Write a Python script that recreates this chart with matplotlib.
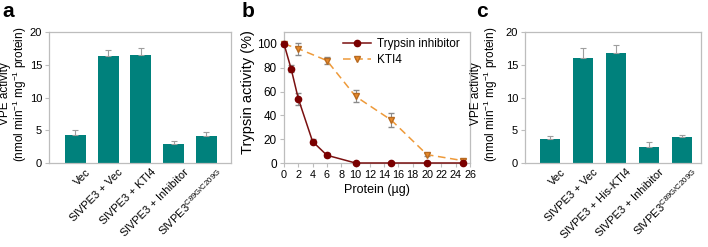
import matplotlib
matplotlib.use('Agg')
import matplotlib.pyplot as plt
import matplotlib.transforms as mtransforms
import numpy as np

plt.rcParams['font.family'] = ['Liberation Sans', 'DejaVu Sans']
plt.rcParams['font.size'] = 8
plt.rcParams['mathtext.fontset'] = 'custom'
plt.rcParams['mathtext.rm'] = 'Liberation Sans'

# panel a
labels_a = ['Vec', 'SlVPE3 + Vec', 'SlVPE3 + KTI4', 'SlVPE3 + Inhibitor', r'SlVPE3$^{\mathregular{C89G/C209G}}$']
vpe_a = [4.2, 16.3, 16.5, 2.9, 4.1]
err_a = [0.8, 1.0, 1.1, 0.5, 0.6]

# panel c
labels_c = ['Vec', 'SlVPE3 + Vec', 'SlVPE3 + His-KTI4', 'SlVPE3 + Inhibitor', r'SlVPE3$^{\mathregular{C89G/C209G}}$']
vpe_c = [3.7, 16.1, 16.8, 2.5, 3.9]
err_c = [0.4, 1.4, 1.2, 0.7, 0.4]

# panel b
ti_x = [0, 1, 2, 4, 6, 10, 15, 20, 25]
ti_y = [100, 79, 54, 18, 6.5, 0, 0, 0, 0]
ti_err = [1.5, 3, 5, 2, 1.5, 0.5, 0.5, 0.5, 0.5]
kti_x = [0, 2, 6, 10, 15, 20, 25]
kti_y = [100, 96, 86, 56, 36, 7, 2]
kti_err = [1, 5, 3, 5, 6, 1.5, 1]

teal = '#00817C'
spine_c = '#BDBDBD'
W, H = 708, 247

fig = plt.figure(figsize=(W / 100, H / 100), dpi=100)


def ax_at(l, t, r, b):
    return fig.add_axes([l / W, 1 - b / H, (r - l) / W, (b - t) / H])


def style(ax):
    for s in ax.spines.values():
        s.set_color(spine_c)
        s.set_linewidth(0.9)
    ax.tick_params(colors=spine_c, labelcolor='black', length=3, width=0.8, direction='out', pad=2)


def bar_panel(ax, labels, vals, errs, xlim, bw):
    x = np.arange(len(vals))
    ax.bar(x, vals, width=bw, color=teal, zorder=2)
    ax.errorbar(x, vals, yerr=[np.zeros(len(errs)), errs], fmt='none', ecolor='#9E9E9E',
                elinewidth=0.8, capsize=2.5, capthick=0.8, zorder=3)
    ax.set_xlim(*xlim)
    ax.set_ylim(0, 20)
    ax.set_yticks([0, 5, 10, 15, 20])
    ax.set_xticks(x)
    ax.set_xticklabels(labels, rotation=45, ha='right', rotation_mode='anchor', fontsize=8)
    style(ax)
    ax.tick_params(axis='x', length=0, pad=3)
    ax.tick_params(axis='y', labelsize=8)
    # labels sit a little right of the bar centres, as in the original
    shift = mtransforms.ScaledTranslation(10 / 100, 0, fig.dpi_scale_trans)
    for t in ax.get_xticklabels():
        t.set_transform(t.get_transform() + shift)


ax_a = ax_at(49, 32, 231, 163)
bar_panel(ax_a, labels_a, vpe_a, err_a, (-0.8, 4.75), 0.64)
ax_c = ax_at(525, 32, 701, 163)
bar_panel(ax_c, labels_c, vpe_c, err_c, (-0.76, 4.58), 0.62)

ylab = 'VPE activity\n(nmol min$^{-1}$ mg$^{-1}$ protein)'
fig.text(14 / W, 1 - 94 / H, ylab, rotation=90, ha='center', va='center', fontsize=8.5,
         multialignment='center', linespacing=1.0)
fig.text(485 / W, 1 - 94 / H, ylab, rotation=90, ha='center', va='center', fontsize=8.5,
         multialignment='center', linespacing=1.0)

ax_b = ax_at(284, 32, 470, 163)
ax_b.errorbar(ti_x, ti_y, yerr=ti_err, color='#7A1010', marker='o', markersize=4.5,
              markerfacecolor='#7A0000', markeredgecolor='#7A0000', linewidth=1.1,
              ecolor='#8A8A8A', elinewidth=0.8, capsize=2.5, label='Trypsin inhibitor', zorder=3,
              clip_on=False)
ax_b.errorbar(kti_x, kti_y, yerr=kti_err, color='#EE9A3A', marker='v', markersize=5,
              markerfacecolor='#E88A2A', markeredgecolor='#B86A20', linewidth=1.1, linestyle='--',
              dashes=(5, 3), ecolor='#8A8A8A', elinewidth=0.8, capsize=2.5, label='KTI4', zorder=2,
              clip_on=False)
ax_b.set_xlim(0, 26)
ax_b.set_ylim(0, 110)
ax_b.set_xticks(range(0, 27, 2))
ax_b.set_yticks(range(0, 101, 20))
style(ax_b)
ax_b.tick_params(axis='x', labelsize=7.8, pad=2)
ax_b.tick_params(axis='y', labelsize=8.5)
ax_b.set_xlabel('Protein (µg)', fontsize=9, labelpad=3)
fig.text(248 / W, 1 - 92 / H, 'Trypsin activity (%)', rotation=90, ha='center', va='center',
         fontsize=10.5)
handles, labs = ax_b.get_legend_handles_labels()
ax_b.legend([h[0] for h in handles], labs, loc='upper left', frameon=False, fontsize=8.5,
            handlelength=2.4, borderaxespad=0, borderpad=0, labelspacing=0.35, handletextpad=0.5,
            bbox_to_anchor=(343 / W, 1 - 38 / H), bbox_transform=fig.transFigure)

fig.text(2 / W, 1 - 17 / H, 'a', fontsize=15, fontweight='bold', va='baseline')
fig.text(242 / W, 1 - 17 / H, 'b', fontsize=15, fontweight='bold', va='baseline')
fig.text(476 / W, 1 - 17 / H, 'c', fontsize=15, fontweight='bold', va='baseline')

fig.savefig('out.png', dpi=100)
